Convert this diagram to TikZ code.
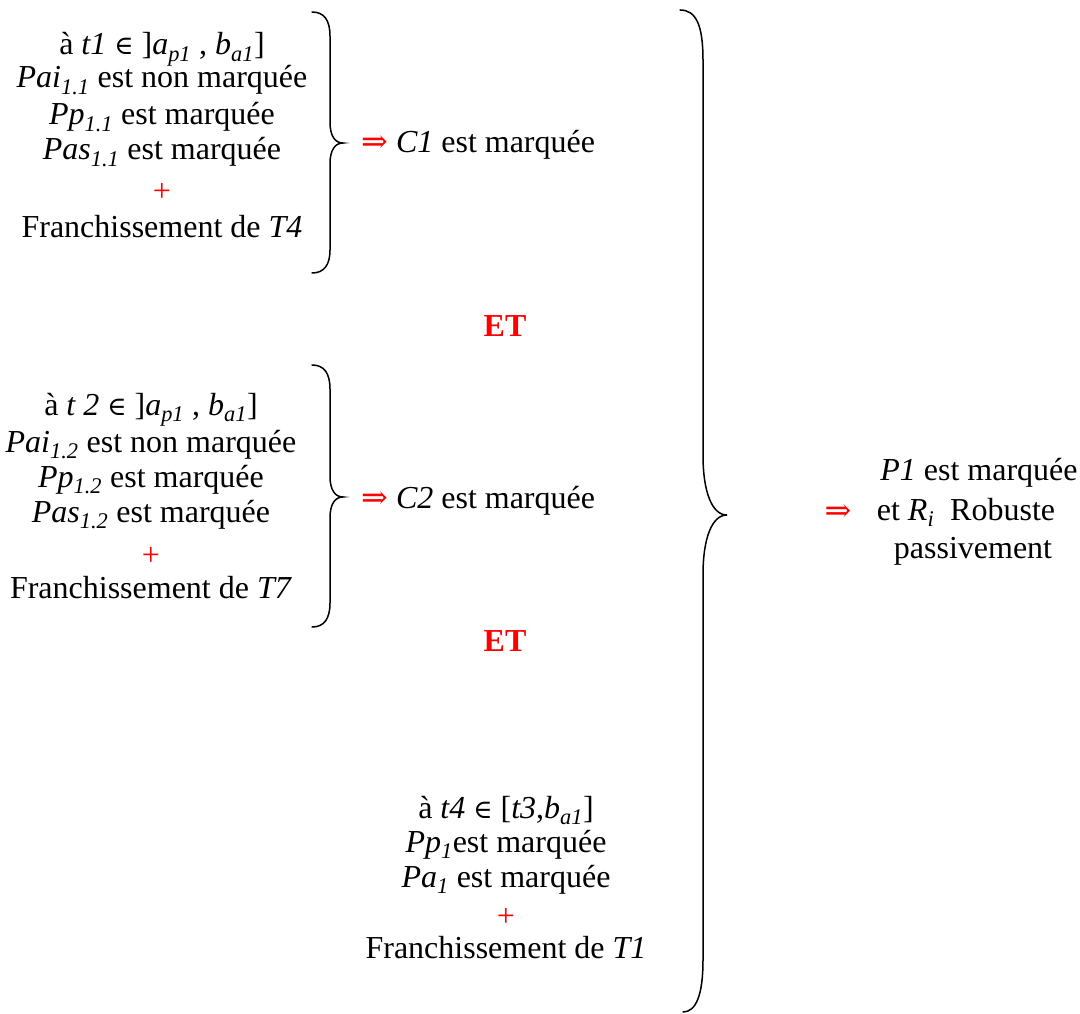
\documentclass[tikz,border=0pt]{standalone}
\usepackage{fontspec}
\setmainfont{Liberation Serif}
\newfontfamily\symf{DejaVu Serif}
\newcommand\mysb[1]{\textsubscript{\itshape #1}}
\newcommand\elt{{\symf\fontsize{26}{30}\selectfont ∈}}
\newcommand\impl{{\symf ⇒}}
\begin{document}
\begin{tikzpicture}[x=1pt,y=-1pt,
  ln/.style={anchor=base, inner sep=0pt, font=\fontsize{32}{36}\selectfont},
  rd/.style={text=red},
  etlbl/.style={ln, text=red, font=\fontsize{32}{36}\selectfont\bfseries},
  brace/.style={line width=1.5pt, line cap=round}]
\useasboundingbox (0,0) rectangle (1080,1014);
% block 1
\node[ln] (a1) at (162,55) {à \textit{t1} \elt\ ]\textit{a\mysb{p1}} , \textit{b\mysb{a1}}]};
\node[ln] (a2) at (162,88) {\textit{Pai\mysb{1.1}} est non marquée};
\node[ln] (a3) at (162,125) {\textit{Pp\mysb{1.1}} est marquée};
\node[ln] (a4) at (162,160) {\textit{Pas\mysb{1.1}} est marquée};
\node[ln,rd] (a5) at (162,201) {+};
\node[ln] (a6) at (162,237) {Franchissement de \textit{T4}};
\draw[brace] (312,12) .. controls (324,12) and (330,20) .. (330,36) -- (330,122)
  .. controls (330,136) and (335,143) .. (343,143)
  .. controls (335,143) and (330,150) .. (330,164) -- (330,250)
  .. controls (330,265) and (324,273) .. (312,273);
\node[ln,anchor=base west] (c1) at (361,153) {\textcolor{red}{\impl} \textit{C1} est marquée};
\node[etlbl] (et1) at (505,336) {ET};
% block 2
\node[ln] (b1) at (151,415) {à \textit{t 2} \elt\ ]\textit{a\mysb{p1}} , \textit{b\mysb{a1}}]};
\node[ln] (b2) at (151,452) {\textit{Pai\mysb{1.2}} est non marquée};
\node[ln] (b3) at (151,487) {\textit{Pp\mysb{1.2}} est marquée};
\node[ln] (b4) at (151,522) {\textit{Pas\mysb{1.2}} est marquée};
\node[ln,rd] (b5) at (151,565) {+};
\node[ln] (b6) at (151,598) {Franchissement de \textit{T7}};
\draw[brace] (312,365) .. controls (324,365) and (330,373) .. (330,389) -- (330,476)
  .. controls (330,490) and (335,497) .. (343,497)
  .. controls (335,497) and (330,504) .. (330,518) -- (330,603)
  .. controls (330,619) and (324,627) .. (312,627);
\node[ln,anchor=base west] (c2) at (361,508) {\textcolor{red}{\impl} \textit{C2} est marquée};
\node[etlbl] (et2) at (505,651) {ET};
% block 3
\node[ln] (d1) at (506,818) {à \textit{t4} \elt\ [\textit{t3},\textit{b\mysb{a1}}]};
\node[ln] (d2) at (506,852) {\textit{Pp\mysb{1}}est marquée};
\node[ln] (d3) at (506,887) {\textit{Pa\mysb{1}} est marquée};
\node[ln,rd] (d4) at (506,926) {+};
\node[ln] (d5) at (506,958) {Franchissement de \textit{T1}};
% big brace
\draw[brace] (680,10) .. controls (696,10) and (703,25) .. (703,60) -- (703,455)
  .. controls (703,492) and (712,515) .. (727,515)
  .. controls (712,515) and (703,538) .. (703,575) -- (703,960)
  .. controls (703,995) and (696,1012) .. (683,1012);
% conclusion
\node[ln,rd] (imp) at (838,521) {\impl};
\node[ln] (r1) at (979,480) {\textit{P1} est marquée};
\node[ln] (r2) at (966,520) {et \textit{R\mysb{i}}\ \ Robuste};
\node[ln] (r3) at (973,558) {passivement};
\end{tikzpicture}
\end{document}
